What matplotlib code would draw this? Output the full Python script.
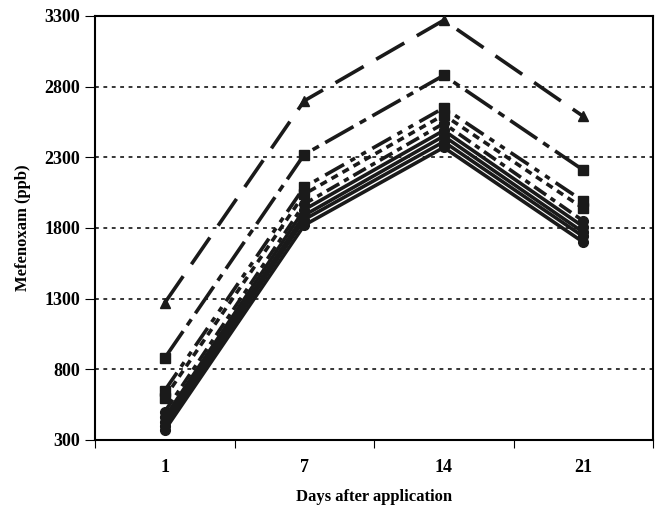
import numpy as np
import matplotlib.pyplot as plt

plt.rcParams['font.family'] = ['Liberation Serif', 'DejaVu Serif']
plt.rcParams['font.weight'] = 'bold'

# 数据
days = ['1', '7', '14', '21']
s1 = [1270, 2700, 3270, 2590]
s2 = [880, 2320, 2880, 2210]
s3 = [650, 2090, 2650, 1990]
s4 = [600, 2040, 2600, 1940]
s5 = [500, 1970, 2540, 1850]
s6 = [460, 1930, 2490, 1810]
s7 = [430, 1890, 2450, 1770]
s8 = [400, 1860, 2410, 1740]
s9 = [370, 1820, 2370, 1700]

series = [s1, s2, s3, s4, s5, s6, s7, s8, s9]
markers = ['^', 's', 's', 's', 'o', 'o', 'o', 'o', 'o']
styles = [(0, (9, 4)), (0, (9, 2, 2, 2)), (0, (6, 2, 1.5, 2, 1.5, 2)),
          (0, (2, 1.5)), (0, (4, 1.5, 1.5, 1.5)), '-', '-', '-', '-']

fig = plt.figure(figsize=(6.57, 5.12), dpi=100)
ax = fig.add_axes([95/657, 72/512, 558/657, 424/512])

x = np.arange(len(days))
for vals, m, ls in zip(series, markers, styles):
    ax.plot(x, vals, color='#1a1a1a', linestyle=ls, linewidth=2.6,
            marker=m, markersize=7, zorder=3)

ax.set_xlim(-0.5, 3.5)
ax.set_ylim(300, 3300)
ax.set_yticks(np.arange(300, 3301, 500))
ax.yaxis.grid(True, linestyle=(0, (2.5, 3)), color='black', linewidth=1.1)
ax.set_xticks(np.arange(-0.5, 3.6, 1))
ax.set_xticklabels([])
ax.set_xticks(x, minor=True)
ax.set_xticklabels(days, minor=True)
ax.tick_params(axis='x', which='minor', length=0, pad=14, labelsize=13)
ax.tick_params(axis='x', which='major', direction='out', length=6)
ax.tick_params(axis='y', direction='out', length=7, labelsize=13)
for sp in ax.spines.values():
    sp.set_linewidth(1.5)

ax.set_ylabel('Mefenoxam (ppb)', fontsize=12, fontweight='bold', labelpad=10)
ax.set_xlabel('Days after application', fontsize=12, fontweight='bold', labelpad=9)

fig.savefig('out.png', dpi=100)
